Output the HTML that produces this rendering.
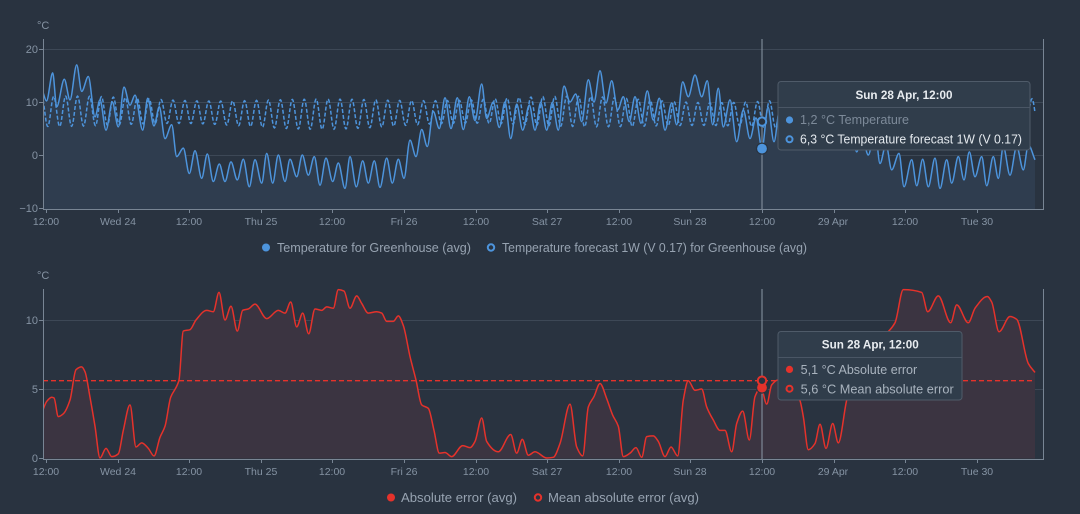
<!DOCTYPE html>
<html><head><meta charset="utf-8">
<style>
html,body{margin:0;padding:0;background:#293340;}
svg{display:block;font-family:"Liberation Sans",sans-serif;}
</style></head>
<body>
<svg id="c" width="1080" height="514" viewBox="0 0 1080 514" xmlns="http://www.w3.org/2000/svg">
<rect x="0" y="0" width="1080" height="514" fill="#293340"/>
<defs>
<clipPath id="cpT"><rect x="43" y="30" width="1000" height="179.5"/></clipPath>
<clipPath id="cpB"><rect x="43" y="280" width="1000" height="179"/></clipPath>
</defs>
<!-- grid top -->
<g stroke="#3d4856" stroke-width="1">
<line x1="43" y1="49.5" x2="1043" y2="49.5"/>
<line x1="43" y1="102.5" x2="1043" y2="102.5"/>
<line x1="43" y1="155.5" x2="1043" y2="155.5"/>
<line x1="43" y1="320.5" x2="1043" y2="320.5"/>
<line x1="43" y1="389.5" x2="1043" y2="389.5"/>
</g>
<g id="topSeries" clip-path="url(#cpT)">
<path id="tFill" fill="#2f3d4f" d=""/>
<path id="tFc" fill="none" stroke="#4d94dc" stroke-width="1.5" stroke-dasharray="4,2" d=""/>
<path id="tLine" fill="none" stroke="#4d94dc" stroke-width="1.5" d=""/>
</g>
<g id="botSeries" clip-path="url(#cpB)">
<path id="bFill" fill="#3b3441" d=""/>
<line x1="43" y1="380.7" x2="1035" y2="380.7" stroke="#e5322b" stroke-width="1.4" stroke-dasharray="5,3"/>
<path id="bLine" fill="none" stroke="#e5322b" stroke-width="1.5" d=""/>
</g>
<!-- axes -->
<g stroke="#788594" stroke-width="1" fill="none">
<line x1="43.5" y1="39" x2="43.5" y2="209.5"/>
<line x1="1043.5" y1="39" x2="1043.5" y2="209.5"/>
<line x1="43" y1="209.5" x2="1044" y2="209.5"/>
<line x1="39" y1="49.5" x2="43" y2="49.5"/>
<line x1="39" y1="102.5" x2="43" y2="102.5"/>
<line x1="39" y1="155.5" x2="43" y2="155.5"/>
<line x1="39" y1="208.5" x2="43" y2="208.5"/>
<line x1="43.5" y1="289" x2="43.5" y2="459.5"/>
<line x1="1043.5" y1="289" x2="1043.5" y2="459.5"/>
<line x1="43" y1="459.5" x2="1044" y2="459.5"/>
<line x1="39" y1="320.5" x2="43" y2="320.5"/>
<line x1="39" y1="389.5" x2="43" y2="389.5"/>
<line x1="39" y1="458.5" x2="43" y2="458.5"/>
</g>
<g id="ticks" stroke="#788594" stroke-width="1"></g>
<!-- y labels -->
<g fill="#8593a3" font-size="11" text-anchor="end">
<text x="38" y="53">20</text>
<text x="38" y="106">10</text>
<text x="38" y="159">0</text>
<text x="38" y="212">−10</text>
<text x="38" y="324">10</text>
<text x="38" y="393">5</text>
<text x="38" y="462">0</text>
</g>
<g fill="#8593a3" font-size="11">
<text x="37" y="29">°C</text>
<text x="37" y="279">°C</text>
</g>
<!-- x labels -->
<g fill="#8593a3" font-size="10.5" text-anchor="middle">
<text x="46" y="225">12:00</text><text x="118" y="225">Wed 24</text><text x="189" y="225">12:00</text><text x="261" y="225">Thu 25</text><text x="332" y="225">12:00</text><text x="404" y="225">Fri 26</text><text x="476" y="225">12:00</text><text x="547" y="225">Sat 27</text><text x="619" y="225">12:00</text><text x="690" y="225">Sun 28</text><text x="762" y="225">12:00</text><text x="833" y="225">29 Apr</text><text x="905" y="225">12:00</text><text x="977" y="225">Tue 30</text>
<text x="46" y="475">12:00</text><text x="118" y="475">Wed 24</text><text x="189" y="475">12:00</text><text x="261" y="475">Thu 25</text><text x="332" y="475">12:00</text><text x="404" y="475">Fri 26</text><text x="476" y="475">12:00</text><text x="547" y="475">Sat 27</text><text x="619" y="475">12:00</text><text x="690" y="475">Sun 28</text><text x="762" y="475">12:00</text><text x="833" y="475">29 Apr</text><text x="905" y="475">12:00</text><text x="977" y="475">Tue 30</text>
</g>
<!-- crosshair -->
<g stroke="#8b98a6" stroke-width="1">
<line x1="762" y1="39" x2="762" y2="209"/>
<line x1="762" y1="289" x2="762" y2="459"/>
</g>
<!-- markers -->
<circle cx="762" cy="148.6" r="5.5" fill="#4d94dc" stroke="#293340" stroke-width="1.2"/>
<circle cx="762" cy="121.6" r="4.2" fill="#293340" stroke="#4d94dc" stroke-width="2"/>
<circle cx="762" cy="387.6" r="5.5" fill="#e5322b" stroke="#293340" stroke-width="1.2"/>
<circle cx="762" cy="380.7" r="4.2" fill="#293340" stroke="#e5322b" stroke-width="2"/>
<!-- legends -->
<g font-size="12.5" fill="#97a3b1">
<circle cx="266" cy="247.5" r="4" fill="#4d94dc"/>
<text x="277" y="252" textLength="194" lengthAdjust="spacingAndGlyphs">Temperature for Greenhouse (avg)</text>
<circle cx="491" cy="247.5" r="3.2" fill="none" stroke="#4d94dc" stroke-width="2"/>
<text x="502" y="252" textLength="305" lengthAdjust="spacingAndGlyphs">Temperature forecast 1W (V 0.17) for Greenhouse (avg)</text>
<circle cx="391" cy="497.5" r="4" fill="#e5322b"/>
<text x="401" y="502" textLength="116" lengthAdjust="spacingAndGlyphs">Absolute error (avg)</text>
<circle cx="538" cy="497.5" r="3.2" fill="none" stroke="#e5322b" stroke-width="2"/>
<text x="548" y="502" textLength="151" lengthAdjust="spacingAndGlyphs">Mean absolute error (avg)</text>
</g>
<!-- tooltip top -->
<g>
<rect x="778" y="81.5" width="252" height="68.5" rx="3" fill="#303d4b" stroke="#4f5b69" stroke-width="1"/>
<text x="904" y="99" font-size="12" font-weight="bold" fill="#e8ecf0" text-anchor="middle" textLength="97" lengthAdjust="spacingAndGlyphs">Sun 28 Apr, 12:00</text>
<line x1="778.5" y1="107.5" x2="1029.5" y2="107.5" stroke="#4a5665"/>
<circle cx="789.5" cy="120" r="3.6" fill="#4d94dc"/>
<text x="800" y="124" font-size="12.5" fill="#7d8a99" textLength="109" lengthAdjust="spacingAndGlyphs">1,2 °C Temperature</text>
<circle cx="789.5" cy="139.3" r="3" fill="none" stroke="#4d94dc" stroke-width="2"/>
<text x="800" y="143.5" font-size="12.5" fill="#e4e9ee" textLength="222" lengthAdjust="spacingAndGlyphs">6,3 °C Temperature forecast 1W (V 0.17)</text>
</g>
<!-- tooltip bottom -->
<g>
<rect x="778" y="331.5" width="184" height="68.5" rx="3" fill="#303d4b" stroke="#4f5b69" stroke-width="1"/>
<text x="870.3" y="348.5" font-size="12" font-weight="bold" fill="#e8ecf0" text-anchor="middle" textLength="97" lengthAdjust="spacingAndGlyphs">Sun 28 Apr, 12:00</text>
<line x1="778.5" y1="357.5" x2="961.5" y2="357.5" stroke="#4a5665"/>
<circle cx="789.5" cy="369.4" r="3.6" fill="#e5322b"/>
<text x="800.7" y="374" font-size="12.5" fill="#a9b3be" textLength="116.5" lengthAdjust="spacingAndGlyphs">5,1 °C Absolute error</text>
<circle cx="789.5" cy="388.7" r="3" fill="none" stroke="#e5322b" stroke-width="2"/>
<text x="800.7" y="393.3" font-size="12.5" fill="#a9b3be" textLength="153" lengthAdjust="spacingAndGlyphs">5,6 °C Mean absolute error</text>
</g>
</svg>
<script>
(function(){
var NS="http://www.w3.org/2000/svg";
var tk=document.getElementById("ticks");
for(var k=0;k<14;k++){
  var x=Math.round(46+71.6*k)+0.5;
  [[209,213],[459,463]].forEach(function(r){
    var l=document.createElementNS(NS,"line");
    l.setAttribute("x1",x);l.setAttribute("x2",x);l.setAttribute("y1",r[0]);l.setAttribute("y2",r[1]);
    tk.appendChild(l);
  });
}
function yT(v){return 155-5.3*v;}
function yB(v){return 458-13.8*v;}
function mono(pts){
  var n=pts.length,xs=[],ys=[],d=[],m=[],i;
  for(i=0;i<n;i++){xs.push(pts[i][0]);ys.push(pts[i][1]);}
  for(i=0;i<n-1;i++)d.push((ys[i+1]-ys[i])/(xs[i+1]-xs[i]));
  m[0]=d[0];m[n-1]=d[n-2];
  for(i=1;i<n-1;i++){
    if(d[i-1]*d[i]<=0)m[i]=0;
    else{var h0=xs[i]-xs[i-1],h1=xs[i+1]-xs[i];m[i]=3*(h0+h1)/((2*h1+h0)/d[i-1]+(h1+2*h0)/d[i]);}
  }
  var s="M"+xs[0].toFixed(2)+","+ys[0].toFixed(2);
  for(i=0;i<n-1;i++){
    var h=xs[i+1]-xs[i];
    s+=" C"+(xs[i]+h/3).toFixed(2)+","+(ys[i]+m[i]*h/3).toFixed(2)+" "+(xs[i+1]-h/3).toFixed(2)+","+(ys[i+1]-m[i+1]*h/3).toFixed(2)+" "+xs[i+1].toFixed(2)+","+ys[i+1].toFixed(2);
  }
  return s;
}
var A=[[43,11.8],[46.5,10.2],[52.7,15.5],[56.7,9.1],[64.3,14.3],[70,10.4],[76.7,17],[81.7,12],[88.3,14.8],[95,7.2],[100,10.4],[106,4.7],[112.3,10],[118.3,5.3],[124,12.8],[130,9.4],[135,11.3],[142.7,4.7],[147.7,10.7],[154,5.5],[159.3,9.1],[165,3.1],[171.7,5.7],[176.7,-0.3],[183.3,1.3],[189.3,-3.5],[195,0.8],[201.7,-4.4],[207.3,0.2],[213.3,-5],[219.3,-1.7],[225,-5],[231,-1.3],[237.3,-4.7],[243.3,-0.8],[249.3,-6],[255,-0.9],[261.7,-5.3],[266.7,0.3],[272.7,-5.3],[278.3,0],[285,-5],[290,-0.8],[296.7,-4.1],[302.3,0],[308.3,-3.8],[314.3,-0.3],[320,-5.7],[326,-0.6],[332.7,-5],[338.3,-1.5],[345,-6.3],[350,-0.3],[356.3,-6],[362.7,-1.1],[368.3,-5.3],[374.3,-1.1],[380,-6.1],[386.7,-0.6],[392.3,-5.3],[398.3,-0.8],[404,-4.4],[410,2.8],[416,-0.3],[421.7,4.8],[427.3,1.6],[433.3,8.2],[439.3,5],[445,10.8],[451,5],[457.3,10.8],[463.3,4.8],[469.3,11],[475,6.5],[481.7,13.4],[486.7,6.9],[493.3,10],[499.3,5.2],[505,10],[510.7,3.1],[516.7,9.6],[522.7,4.7],[529.3,9.4],[535,4.7],[540.7,9.9],[546.7,4.7],[552.3,9.9],[558.3,4.7],[564,13],[570,10],[575.7,11.5],[581.7,6.3],[588.3,14.2],[594,10],[600,15.9],[606,9.8],[611.7,14],[617.7,8.5],[623.3,11],[629.3,6.3],[635,11],[641,6],[647.3,12.1],[653.3,6.6],[659.3,10.7],[665,4.7],[671.7,9.8],[676.7,5.7],[682.7,13.8],[688.3,11],[695,15.1],[701.7,11],[707.3,14],[712.7,5.7],[718.3,12.6],[723.3,5.3],[730,10.4],[736.7,2.5],[743.3,8.5],[750,3.1],[756,7],[762,1.2],[768,9],[774,2.5],[780,9],[786,4],[792,10],[798,5],[804,9.5],[810,5],[816,9],[822,4],[828,8],[834,3],[840,7],[846,2],[851,5],[856.7,0.6],[861.7,3.8],[868.3,0],[875,4.7],[880,-1.6],[886,2],[891.7,-2.8],[899,0.3],[904,-6],[911.7,-0.9],[916.7,-5.8],[922.7,-0.8],[928.3,-6],[935,-0.6],[940,-6.3],[946.7,-0.9],[951.7,-5.3],[958.3,-0.3],[964,-4.7],[969.3,0.6],[975,-4.1],[981.7,-0.3],[986.7,-5.8],[993.3,-0.3],[998.3,-4.4],[1003.3,1.6],[1010,-3.8],[1016.7,1.6],[1023.3,-2.8],[1028.3,1.9],[1035,-0.9]];
var ap=A.map(function(p){return [p[0],yT(p[1])];});
var sp=mono(ap);
document.getElementById("tLine").setAttribute("d",sp);
document.getElementById("tFill").setAttribute("d",sp+" L1035,209 L43,209 Z");
var f="";
for(var x=43;x<=1035.01;x+=0.5){
  var v=8.0+0.3*Math.sin(x/67)+(2.5+0.35*Math.sin(x/41))*Math.cos(2*Math.PI*(x-173)/11.93);
  f+=(x==43?"M":" L")+x.toFixed(1)+","+yT(v).toFixed(2);
}
document.getElementById("tFc").setAttribute("d",f);
var E=[[43,3.5],[46.7,4.1],[51.7,4.4],[54,4.35],[58.3,3.0],[63.3,3.2],[70,4.2],[76,6.4],[81.7,6.6],[85,6.25],[90,4.4],[95,2.3],[100,0],[106,0.7],[111.7,0.1],[118.3,0.3],[123.3,2],[130,3.85],[136,0.8],[141.7,1.1],[148.3,0.7],[154,0.15],[160,1.5],[165,2.3],[170.7,4.4],[176.7,5.2],[179,5.65],[183.3,9.2],[190,9.3],[196,10],[206.7,10.7],[213.3,10.6],[219,12],[225,10],[231,11],[237.3,9.2],[242.7,10.7],[248.3,10.8],[255,11.15],[266.7,10.1],[278.3,10.7],[285,10.5],[290.7,11.3],[296.7,9.5],[302.7,10.5],[308.7,9],[315,10.8],[321.7,10.7],[326.7,10.95],[333.3,10.85],[338.3,12.2],[344,12.1],[350,10.85],[356.7,11.75],[361.7,11.2],[368.3,10.5],[376.7,10.6],[381.7,10.5],[386.7,9.9],[393.3,9.9],[398.3,10.3],[403.3,9.6],[410,7.35],[416,5.65],[421.7,3.85],[428.3,3.6],[434,2.0],[439.3,0.35],[445,0.4],[451.7,0.1],[462.7,0.9],[470,0.75],[475,1.2],[481.7,2.9],[486.7,1.2],[498.3,0.45],[510.7,1.7],[516.7,0.35],[522.3,1.35],[528.3,0.2],[535,0.45],[546.7,0],[553.3,0.05],[560,1.05],[570,3.9],[576.7,0.8],[582.7,0.15],[588.3,3.7],[594,4.45],[600,5.4],[606.7,4.3],[612.7,3.1],[618.3,2.3],[623.3,0.1],[630,0.35],[636,0.75],[641.7,0.05],[646.7,1.55],[653.3,1.6],[658.3,1.2],[665,0.1],[671,0.8],[677.7,0.15],[683.3,4.2],[688.3,5.6],[695,4.9],[701.7,5.0],[706.7,3.7],[713.3,2.75],[720,2.0],[725,2.0],[731.7,0.45],[736.7,2.5],[742.7,3.4],[749.3,1.3],[755,4.45],[761,5.1],[766.7,3.9],[771.7,5.3],[778.3,5.65],[790,5.2],[800,4.15],[803.3,3.0],[808.3,0.6],[815,1.05],[820,2.45],[826,0.7],[832.7,2.5],[838.3,1.1],[846.7,4.2],[856,6.5],[870,8],[883,8.8],[895,9.8],[903.3,12.2],[921.7,12.0],[927.7,10.6],[938.3,11.75],[950.7,9.8],[956.7,11.1],[968.3,9.8],[975,10.85],[987.3,11.7],[991.7,11.3],[999,9.15],[1010,10.25],[1016.7,10.05],[1028.3,6.85],[1035,6.2]];
var ep=E.map(function(p){return [p[0],yB(p[1])];});
var bp=mono(ep);
document.getElementById("bLine").setAttribute("d",bp);
document.getElementById("bFill").setAttribute("d",bp+" L1035,458.5 L43,458.5 Z");
})();
</script>
</body></html>
